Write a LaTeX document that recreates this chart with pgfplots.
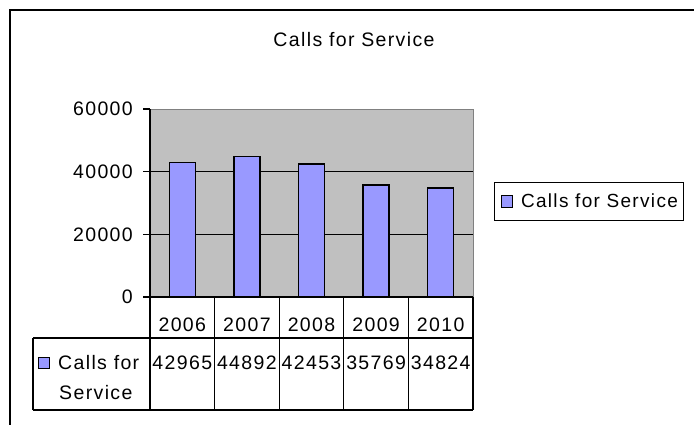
\documentclass[border=0pt]{standalone}
\usepackage{fontspec}
\setmainfont{Liberation Sans}[LetterSpace=7]
\usepackage{pgfplots}
\usepackage{pgfplotstable}
\pgfplotsset{compat=1.18}

\definecolor{barfill}{HTML}{9999FF}
\definecolor{plotbg}{HTML}{C0C0C0}
\definecolor{plotedge}{HTML}{808080}

\newcommand\cfont{\fontsize{19.5bp}{22bp}\selectfont}

% calls for service per year
\pgfplotstableread{
idx year calls
0   2006 42965
1   2007 44892
2   2008 42453
3   2009 35769
4   2010 34824
}\callsdata

\begin{document}
\begin{tikzpicture}[x=1bp,y=1bp]
\useasboundingbox (0,0) rectangle (694,424);
% outer frame (only top and left visible)
\draw[line width=2bp] (10,-5) -- (10,414) -- (700,414);
\node[font=\cfont] at (354,384) {Calls for Service};

\begin{axis}[
  at={(150bp,127bp)}, anchor=south west,
  width=323bp, height=188bp, scale only axis,
  clip=false,
  xmin=-0.5, xmax=4.5, ymin=0, ymax=60000,
  xtick={0,...,4},
  xticklabels from table={\callsdata}{year},
  ytick={0,20000,40000,60000},
  scaled y ticks=false,
  /pgf/number format/1000 sep={},
  /pgf/number format/assume math mode=true,
  tick label style={font=\cfont, black},
  xticklabel style={anchor=center, yshift=-21bp},
  yticklabel style={anchor=east, inner sep=0pt, xshift=-10bp},
  axis background/.style={fill=plotbg},
  axis line style={plotedge, line width=1bp},
  xtick style={draw=none},
  ytick style={black, line width=1.2bp},
  tick align=outside, major tick length=7bp,
  ytick pos=left, xtick pos=bottom,
  legend style={at={(1.065,0.508)}, anchor=west, draw=black, line width=1bp,
    font=\fontsize{19bp}{22bp}\selectfont, inner xsep=6bp, inner ysep=11bp,
    nodes={inner sep=0pt}},
]
% horizontal gridlines (black, under the bars)
\draw[black, line width=1.5bp] (axis cs:-0.5,20000) -- (axis cs:4.5,20000);
\draw[black, line width=1.5bp] (axis cs:-0.5,40000) -- (axis cs:4.5,40000);
\addplot[ybar, bar width=26bp, fill=barfill, draw=black, line width=1.5bp,
  legend image code/.code={\path[draw=none, fill=none] (0bp,0bp) -- (20bp,0bp);
    \draw[fill=barfill, draw=black, line width=1bp] (0bp,-5.5bp) rectangle (11bp,5.5bp);}]
  table[x=idx, y=calls]{\callsdata};
\addlegendentry{Calls for Service}
% values row of the data table
\addplot[draw=none, mark=none, forget plot,
  nodes near coords, point meta=explicit,
  every node near coord/.append style={anchor=center, font=\cfont, black, inner sep=0pt}]
  table[x=idx, y expr=-21064, meta=calls]{\callsdata};
\end{axis}

% data table grid
\begin{scope}[line width=1.2bp]
\draw (150,315) -- (150,14);
\draw (150,127) -- (473,127);
\draw (33,86) -- (473,86);
\draw (33,14) -- (473,14);
\draw (33,14) -- (33,86);
\foreach \xx in {214.6,279.2,343.8,408.4,473} \draw (\xx,127) -- (\xx,14);
\end{scope}
\draw[fill=barfill, line width=1bp] (38,56) rectangle (49,67);
\node[anchor=west, font=\cfont, inner sep=0pt] at (58,61) {Calls for};
\node[anchor=west, font=\cfont, inner sep=0pt] at (59,31) {Service};
\end{tikzpicture}
\end{document}
